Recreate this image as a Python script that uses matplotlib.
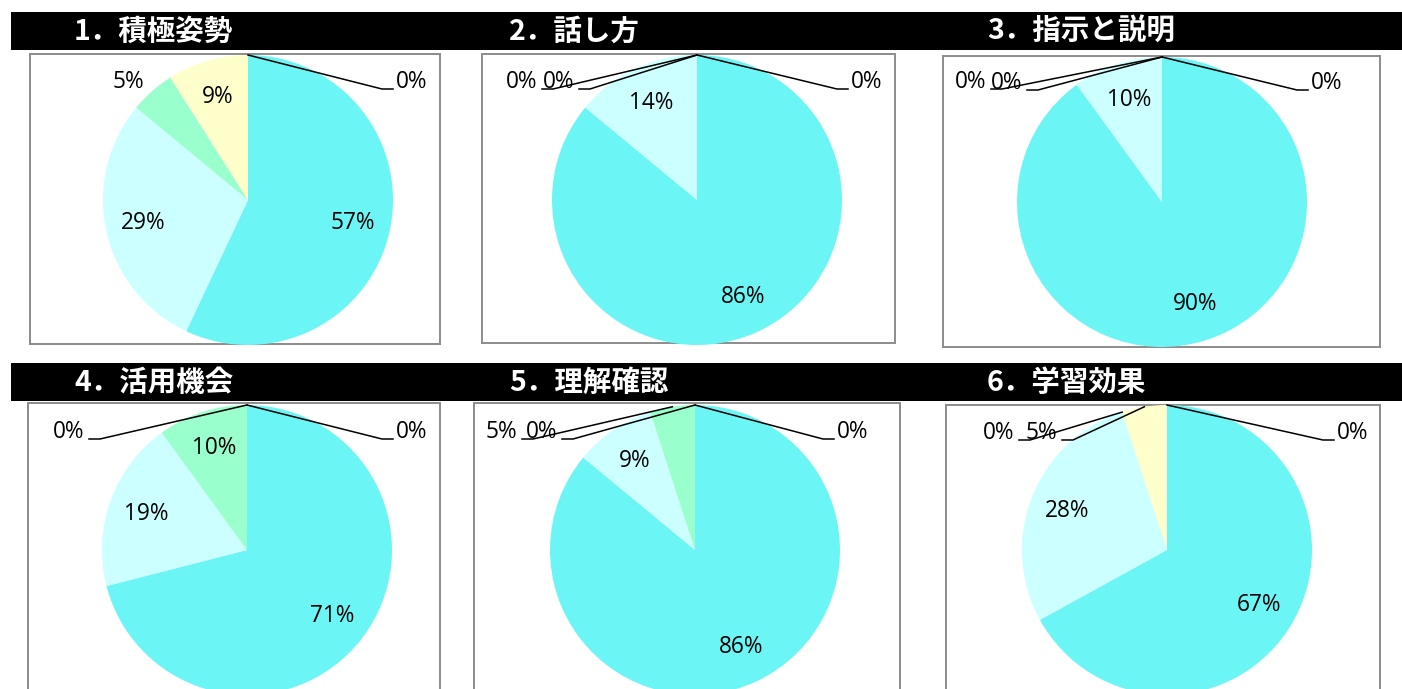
import numpy as np
import matplotlib
matplotlib.use("Agg")
import matplotlib.pyplot as plt
from matplotlib.patches import Rectangle

# ---- data -------------------------------------------------------------
titles = ["1．積極姿勢", "2．話し方", "3．指示と説明",
          "4．活用機会", "5．理解確認", "6．学習効果"]

# share of answers (%) per category, in drawing order
vals_1 = [57, 29, 5, 9, 0]
vals_2 = [86, 14, 0, 0, 0]
vals_3 = [90, 10, 0, 0, 0]
vals_4 = [71, 19, 10, 0, 0]
vals_5 = [86, 9, 5, 0, 0]
vals_6 = [67, 28, 0, 5, 0]
all_vals = [vals_1, vals_2, vals_3, vals_4, vals_5, vals_6]

slice_colors = ["#6CF5F5", "#CCFFFF", "#99FFCC", "#FFFFCC", "#FFFFFF"]

# ---- layout (pixel coordinates, y measured from the top) --------------
W, H = 1402, 689
R = 145
centers = [(248, 200), (697, 200), (1162, 202),
           (247, 550), (695, 550), (1167, 550)]
boxes = [(30, 54, 440, 344), (482, 54, 895, 343), (943, 56, 1380, 347),
         (28, 403, 440, 700), (474, 403, 900, 700), (946, 405, 1380, 700)]
title_x = [74, 509, 987, 74, 509, 987]
title_bars = [(12, 50), (363, 401)]

# labels drawn outside the pie: index -> (kind, x, y)
#   "L"/"R": leader elbow point, text to the left / right of it
#   "T": free text centre, no leader
outside = [
    {2: ("T", 128, 82), 4: ("R", 382, 89)},
    {2: ("L", 553, 89), 3: ("L", 590, 89), 4: ("R", 837, 89)},
    {2: ("L", 1002, 89), 3: ("L", 1038, 90), 4: ("R", 1297, 90)},
    {3: ("L", 100, 439), 4: ("R", 382, 439)},
    {2: ("L", 533, 439), 3: ("L", 573, 439), 4: ("R", 823, 439)},
    {2: ("L", 1030, 440), 3: ("L", 1073, 440), 4: ("R", 1323, 440)},
]

label_font = ["Open Sans", "DejaVu Sans"]
title_font = ["Noto Sans CJK JP", "DejaVu Sans"]
FS = 16.3

fig = plt.figure(figsize=(W / 100, H / 100), dpi=100)
ax = fig.add_axes([0, 0, 1, 1])


def Y(y):
    return H - y


# panel frames
for (x0, y0, x1, y1) in boxes:
    ax.add_patch(Rectangle((x0, Y(y1)), x1 - x0, y1 - y0, fill=False,
                           edgecolor="#8C8C8C", linewidth=1.4, zorder=0))

# pies and labels
for k, vals in enumerate(all_vals):
    cx, cy = centers[k]
    wedges, _ = ax.pie(vals, colors=slice_colors, center=(cx, Y(cy)),
                       radius=R, startangle=90, counterclock=False,
                       wedgeprops=dict(linewidth=0), frame=True)
    for w in wedges:
        w.set_zorder(1)
    for i, (v, w) in enumerate(zip(vals, wedges)):
        mid = np.deg2rad((w.theta1 + w.theta2) / 2)
        txt = f"{v}%"
        if i in outside[k]:
            kind, ex, ey = outside[k][i]
            if kind == "T":
                ax.text(ex, Y(ey), txt, ha="center", va="center",
                        fontsize=FS, family=label_font, zorder=4)
                continue
            axp = cx + R * np.cos(mid)
            ayp = Y(cy) + R * np.sin(mid)
            end = ex - 11 if kind == "L" else ex + 11
            ax.plot([axp, ex, end], [ayp, Y(ey), Y(ey)], color="black",
                    linewidth=1.1, solid_joinstyle="miter", zorder=3)
            if kind == "L":
                ax.text(end - 5, Y(ey) + 7, txt, ha="right", va="center",
                        fontsize=FS, family=label_font, zorder=4)
            else:
                ax.text(end + 3, Y(ey) + 7, txt, ha="left", va="center",
                        fontsize=FS, family=label_font, zorder=4)
        elif v > 0:
            ax.text(cx + 0.74 * R * np.cos(mid), Y(cy) + 0.74 * R * np.sin(mid),
                    txt, ha="center", va="center", fontsize=FS,
                    family=label_font, zorder=4)

# black title bands
for (t0, t1) in title_bars:
    ax.add_patch(Rectangle((11, Y(t1)), W - 11, t1 - t0, facecolor="black",
                           edgecolor="none", zorder=5))
for k, t in enumerate(titles):
    ty = 32 if k < 3 else 383
    ax.text(title_x[k], Y(ty), t, ha="left", va="center", color="white",
            fontsize=20.5, fontweight="bold", family=title_font, zorder=6)

ax.set_xlim(0, W)
ax.set_ylim(0, H)
ax.set_aspect("equal")
ax.axis("off")
fig.savefig("out.png", dpi=100)
